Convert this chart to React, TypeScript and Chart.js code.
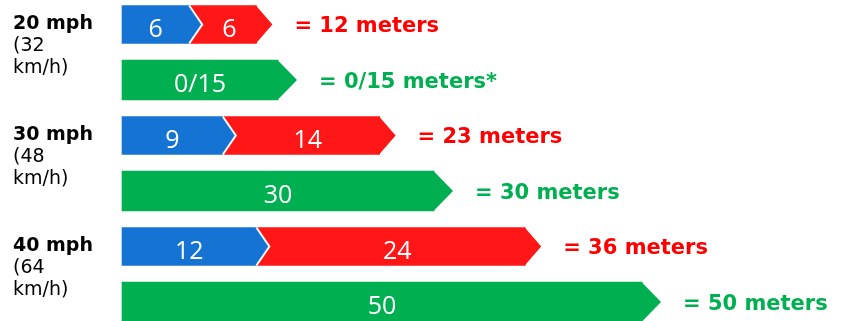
import React, { useEffect, useRef } from 'react';
import { Chart, registerables } from 'chart.js';

Chart.register(...registerables);

// ---- data ----
const speedLabels = ['20 mph', '30 mph', '40 mph'];
const kmhLabels = ['(32', '(48', '(64'];
const unitLabel = 'km/h)';
const thinkingDistance = [6, 9, 12];
const brakingDistance = [6, 14, 24];
const stoppingDistance = [15, 30, 50];
const stoppingLabels = ['0/15', '30', '50'];
const totalTexts = ['= 12 meters', '= 23 meters', '= 36 meters'];
const stoppingTexts = ['= 0/15 meters*', '= 30 meters', '= 50 meters'];

// ---- styles ----
const BLUE = '#1573d3';
const RED = '#ff1616';
const GREEN = '#00b050';
const TEXT_RED = '#ff0000';
const TEXT_GREEN = '#00b050';
const TIP_BLUE = 13;
const TIP_RED = 16;
const TIP_GREEN = 19;
const VERDANA = '"DejaVu Sans", Verdana, sans-serif';
const VALUE_FONT = '25px "Open Sans", "Noto Sans", sans-serif';

const rowCategories = speedLabels.flatMap((s) => [s + ' split', s + ' total']);
const blueData = thinkingDistance.flatMap((v) => [v, null]);
const redData = brakingDistance.flatMap((v) => [v, null]);
const greenData = stoppingDistance.flatMap((v) => [null, v]);

const arrowPlugin = {
  id: 'arrowBars',
  afterDatasetsDraw(chart: any) {
    const ctx: CanvasRenderingContext2D = chart.ctx;
    const metas = [0, 1, 2].map((d) => chart.getDatasetMeta(d));
    const present = (d: number, i: number) => chart.data.datasets[d].data[i] != null;
    const props = (el: any) => el.getProps(['x', 'y', 'base', 'height'], true);

    const tip = (el: any, len: number, color: string, outline: boolean) => {
      const { x, y, height } = props(el);
      const h = height / 2;
      ctx.save();
      ctx.beginPath();
      ctx.moveTo(x - 0.5, y - h);
      ctx.lineTo(x + len, y);
      ctx.lineTo(x - 0.5, y + h);
      ctx.closePath();
      ctx.fillStyle = color;
      ctx.fill();
      if (outline) {
        ctx.beginPath();
        ctx.moveTo(x, y - h);
        ctx.lineTo(x + len, y);
        ctx.lineTo(x, y + h);
        ctx.strokeStyle = '#ffffff';
        ctx.lineWidth = 2;
        ctx.stroke();
      }
      ctx.restore();
    };

    // tips: red, green, then blue over red
    metas[1].data.forEach((el: any, i: number) => present(1, i) && tip(el, TIP_RED, RED, false));
    metas[2].data.forEach((el: any, i: number) => present(2, i) && tip(el, TIP_GREEN, GREEN, false));
    metas[0].data.forEach((el: any, i: number) => present(0, i) && tip(el, TIP_BLUE, BLUE, true));

    ctx.save();
    // value labels
    ctx.fillStyle = '#ffffff';
    ctx.font = VALUE_FONT;
    ctx.textAlign = 'center';
    ctx.textBaseline = 'middle';
    metas[0].data.forEach((el: any, i: number) => {
      if (!present(0, i)) return;
      const { x, y, base } = props(el);
      ctx.fillText(String(thinkingDistance[Math.floor(i / 2)]), (x + base) / 2, y + 5);
    });
    metas[1].data.forEach((el: any, i: number) => {
      if (!present(1, i)) return;
      const { x, y, base } = props(el);
      ctx.fillText(String(brakingDistance[Math.floor(i / 2)]), (x + base + TIP_BLUE) / 2, y + 5);
    });
    metas[2].data.forEach((el: any, i: number) => {
      if (!present(2, i)) return;
      const { x, y, base } = props(el);
      ctx.fillText(stoppingLabels[Math.floor(i / 2)], (x + base) / 2, y + 5);
    });

    // right-hand totals
    ctx.textAlign = 'left';
    ctx.textBaseline = 'alphabetic';
    ctx.font = 'bold 21px ' + VERDANA;
    metas[1].data.forEach((el: any, i: number) => {
      if (!present(1, i)) return;
      const { x, y } = props(el);
      ctx.fillStyle = TEXT_RED;
      ctx.fillText(totalTexts[Math.floor(i / 2)], x + TIP_RED + 22, y + 7.5);
    });
    metas[2].data.forEach((el: any, i: number) => {
      if (!present(2, i)) return;
      const { x, y } = props(el);
      ctx.fillStyle = TEXT_GREEN;
      ctx.fillText(stoppingTexts[Math.floor(i / 2)], x + TIP_GREEN + 22, y + 7.5);
    });

    // left speed labels
    ctx.fillStyle = '#000000';
    metas[0].data.forEach((el: any, i: number) => {
      if (!present(0, i)) return;
      const { y } = props(el);
      const k = Math.floor(i / 2);
      ctx.font = 'bold 19px ' + VERDANA;
      ctx.fillText(speedLabels[k], 13, y + 4);
      ctx.font = '19px ' + VERDANA;
      ctx.fillText(kmhLabels[k], 13, y + 26);
      ctx.fillText(unitLabel, 13, y + 48);
    });
    ctx.restore();
  },
};

export default function App() {
  const canvasRef = useRef<HTMLCanvasElement | null>(null);

  useEffect(() => {
    if (!canvasRef.current) return;
    const chart = new Chart(canvasRef.current, {
      type: 'bar',
      data: {
        labels: rowCategories,
        datasets: [
          { label: 'Thinking', data: blueData as any, xAxisID: 'x', backgroundColor: BLUE, barThickness: 38, clip: false as any, borderWidth: 0 },
          { label: 'Braking', data: redData as any, xAxisID: 'x', backgroundColor: RED, barThickness: 38, clip: false as any, borderWidth: 0 },
          { label: 'Stopping', data: greenData as any, xAxisID: 'x2', backgroundColor: GREEN, barThickness: 40, clip: false as any, borderWidth: 0 },
        ],
      },
      options: {
        indexAxis: 'y',
        responsive: false,
        animation: false,
        devicePixelRatio: 1,
        layout: { padding: { top: 24.5, bottom: 19, left: 122, right: 14 } },
        plugins: { legend: { display: false }, tooltip: { enabled: false } },
        scales: {
          x: { type: 'linear', position: 'bottom', min: 0, max: 65, stacked: true, display: false },
          x2: { type: 'linear', position: 'bottom', min: 0, max: 70, stacked: true, display: false },
          y: { type: 'category', offset: false, stacked: true, display: false },
        },
      },
      plugins: [arrowPlugin],
    });
    return () => chart.destroy();
  }, []);

  return (
    <div style={{ position: 'fixed', left: 0, top: 0, width: 864, height: 321, background: '#ffffff' }}>
      <canvas ref={canvasRef} width={864} height={321} style={{ width: 864, height: 321, display: 'block' }} />
    </div>
  );
}
